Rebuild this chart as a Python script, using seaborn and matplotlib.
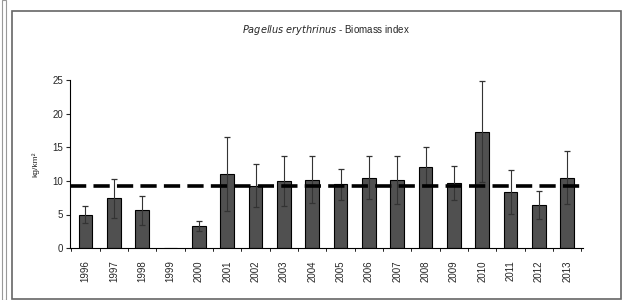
import matplotlib
matplotlib.use("Agg")
import matplotlib.pyplot as plt
import numpy as np
import pandas as pd
import seaborn as sns

# data
years = ["1996", "1997", "1998", "1999", "2000", "2001", "2002", "2003", "2004",
         "2005", "2006", "2007", "2008", "2009", "2010", "2011", "2012", "2013"]
biomass = [5.0, 7.4, 5.6, 0.0, 3.3, 11.0, 9.3, 10.0, 10.2,
           9.5, 10.5, 10.1, 12.1, 9.7, 17.3, 8.3, 6.4, 10.5]
err = [1.3, 2.9, 2.1, 0.0, 0.7, 5.5, 3.2, 3.7, 3.5,
       2.3, 3.2, 3.6, 2.9, 2.5, 7.5, 3.3, 2.1, 4.0]
mean_index = 9.2

df = pd.DataFrame({"year": years, "biomass": biomass})

sns.set_style("white")
plt.rcParams['font.family'] = ['Liberation Sans', 'DejaVu Sans']

fig = plt.figure(figsize=(6.24, 3.0), dpi=100)
ax = fig.add_axes([0.112, 0.173, 0.822, 0.56])

sns.barplot(data=df, x="year", y="biomass", color="#505050", edgecolor="black",
            linewidth=0.8, width=0.48, saturation=1, ax=ax)
xpos = np.arange(len(years))
mask = np.array(biomass) > 0
ax.errorbar(xpos[mask], np.array(biomass)[mask], yerr=np.array(err)[mask],
            fmt="none", ecolor="#333333", elinewidth=0.8, capsize=2.5, capthick=0.9)
ax.axhline(mean_index, color="black", lw=2.6, ls=(0, (4.5, 2)), zorder=3)

ax.set_ylim(0, 25)
ax.set_xlim(-0.55, len(years) - 0.45)
ax.set_yticks([0, 5, 10, 15, 20, 25])
ax.tick_params(axis="y", labelsize=7, length=3, direction="out", left=True, pad=2)
ax.set_xticks(xpos)
ax.set_xticklabels(years, rotation=90, fontsize=7)
ax.tick_params(axis="x", length=0, pad=9)
for b in np.arange(len(years) + 1) - 0.5:
    ax.plot([b, b], [0, -0.5], color="black", lw=0.6, clip_on=False)

for s in ["top", "right"]:
    ax.spines[s].set_visible(False)
for s in ["left", "bottom"]:
    ax.spines[s].set_linewidth(0.8)
    ax.spines[s].set_color("black")

ax.set_xlabel("")
ax.set_ylabel("kg/km²", fontsize=6, labelpad=9)
ax.set_title("$\\it{Pagellus\\ erythrinus}$ - Biomass index", fontsize=7, pad=34)

# outer chart frame
fig.patches.append(plt.Rectangle((12 / 624, 0.005), 609 / 624, 0.96, transform=fig.transFigure,
                                 fill=False, edgecolor="#666666", lw=1.2))
fig.patches.append(plt.Rectangle((2 / 624, 0.0), 4 / 624, 1.0, transform=fig.transFigure,
                                 fill=False, edgecolor="#999999", lw=0.8))

fig.savefig("out.png", dpi=100)
